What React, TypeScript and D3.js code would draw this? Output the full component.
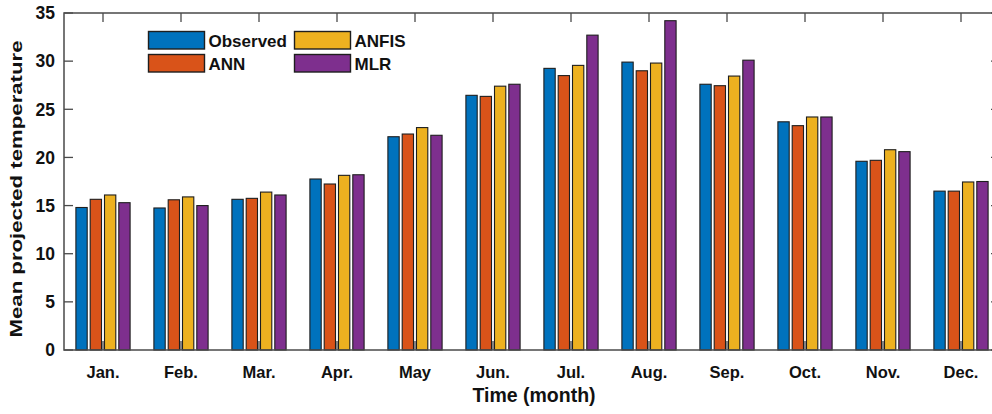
import React from 'react';
import * as d3 from 'd3';

// Monthly mean projected temperature: observed vs. three model estimates
const months = ['Jan.', 'Feb.', 'Mar.', 'Apr.', 'May', 'Jun.', 'Jul.', 'Aug.', 'Sep.', 'Oct.', 'Nov.', 'Dec.'];
const seriesNames = ['Observed', 'ANN', 'ANFIS', 'MLR'];
const observed = [14.8, 14.75, 15.65, 17.76, 22.15, 26.45, 29.25, 29.9, 27.6, 23.7, 19.6, 16.5];
const ann = [15.65, 15.6, 15.75, 17.24, 22.43, 26.34, 28.5, 29.0, 27.45, 23.3, 19.7, 16.5];
const anfis = [16.1, 15.9, 16.4, 18.14, 23.1, 27.4, 29.56, 29.8, 28.45, 24.2, 20.8, 17.45];
const mlr = [15.3, 15.0, 16.1, 18.2, 22.3, 27.6, 32.7, 34.2, 30.1, 24.2, 20.6, 17.5];
const yTicks = [0, 5, 10, 15, 20, 25, 30, 35];
const colors = ['#0072BD', '#D95319', '#EDB120', '#7E2F8E'];

const seriesValues = [observed, ann, anfis, mlr];

const W = 992;
const H = 414;
const left = 64;
const right = 1000;
const top = 13;
const bottom = 350;
const font = '"Liberation Sans", Arial, sans-serif';
const axisColor = '#4a4a4a';

export default function App() {
  const x = d3.scaleBand<string>().domain(months).range([left, right]).padding(0);
  const groupHalf = 28.6;
  const xs = d3
    .scaleBand<string>()
    .domain(seriesNames)
    .range([-groupHalf, groupHalf])
    .paddingInner(0.21)
    .paddingOuter(0.105);
  const y = d3.scaleLinear().domain([0, 35]).range([bottom, top]);
  const center = (m: string) => (x(m) as number) + x.bandwidth() / 2;
  const tickLen = 9;

  const legendItems = [
    { name: 'Observed', bx: 148.5, by: 31.5 },
    { name: 'ANN', bx: 148.5, by: 54.5 },
    { name: 'ANFIS', bx: 294.5, by: 31.5 },
    { name: 'MLR', bx: 294.5, by: 54.5 },
  ];

  return (
    <div style={{ position: 'absolute', left: 0, top: 0, width: W, height: H, background: '#fff' }}>
      <svg width={W} height={H} style={{ display: 'block', fontFamily: font }}>
        <rect x={0} y={0} width={W} height={H} fill="#fff" />

        {/* x ticks at category centres, bottom and top */}
        {months.map((m) => (
          <g key={'xt' + m} stroke={axisColor} strokeWidth={1.3}>
            <line x1={center(m)} x2={center(m)} y1={bottom} y2={bottom - tickLen} />
            <line x1={center(m)} x2={center(m)} y1={top} y2={top + tickLen} />
          </g>
        ))}
        {/* y ticks, left and right */}
        {yTicks.map((t) => (
          <g key={'yt' + t} stroke={axisColor} strokeWidth={1.3}>
            <line x1={left} x2={left + tickLen} y1={y(t)} y2={y(t)} />
            <line x1={right} x2={right - tickLen} y1={y(t)} y2={y(t)} />
          </g>
        ))}

        {/* bars */}
        {months.map((m, i) => (
          <g key={'g' + m}>
            {seriesNames.map((s, k) => {
              const v = seriesValues[k][i];
              const bx = center(m) + (xs(s) as number);
              return (
                <rect
                  key={s}
                  x={bx}
                  y={y(v)}
                  width={xs.bandwidth()}
                  height={bottom - y(v)}
                  fill={colors[k]}
                  stroke="#1e1e1e"
                  strokeWidth={1.1}
                />
              );
            })}
          </g>
        ))}

        {/* axes box */}
        <rect x={left} y={top} width={right - left} height={bottom - top} fill="none" stroke={axisColor} strokeWidth={1.5} />

        {/* y tick labels */}
        {yTicks.map((t) => (
          <text
            key={'yl' + t}
            x={55}
            y={y(t)}
            dy="0.36em"
            textAnchor="end"
            fontSize={17.5}
            fontWeight="bold"
            fill="#111"
          >
            {t}
          </text>
        ))}

        {/* month labels */}
        {months.map((m) => (
          <text key={'xl' + m} x={center(m)} y={378} textAnchor="middle" fontSize={16.5} fontWeight="bold" fill="#111">
            {m}
          </text>
        ))}

        {/* axis titles */}
        <text x={534} y={402} textAnchor="middle" fontSize={19.5} fontWeight="bold" fill="#111">
          Time (month)
        </text>
        <text
          transform="translate(21.5,189) rotate(-90)"
          textAnchor="middle"
          fontSize={16}
          fontWeight="bold"
          fill="#111"
          textLength={297}
          lengthAdjust="spacingAndGlyphs"
        >
          Mean projected temperature
        </text>

        {/* legend */}
        {legendItems.map((it) => {
          const k = seriesNames.indexOf(it.name);
          return (
            <g key={'lg' + it.name}>
              <rect x={it.bx} y={it.by} width={56} height={17.5} fill={colors[k]} stroke="#1e1e1e" strokeWidth={1.4} />
              <text x={it.bx + 60} y={it.by + 15} fontSize={17} fontWeight="bold" fill="#111">
                {it.name}
              </text>
            </g>
          );
        })}
      </svg>
    </div>
  );
}
